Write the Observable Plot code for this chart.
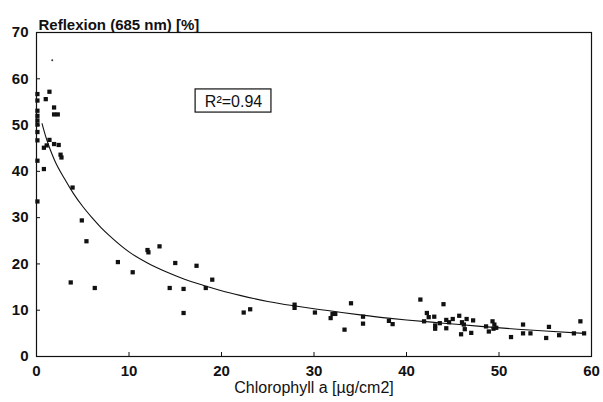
<!DOCTYPE html>
<html>
<head>
<meta charset="utf-8">
<script src="https://cdn.jsdelivr.net/npm/d3@7"></script>
<script src="https://cdn.jsdelivr.net/npm/@observablehq/plot@0.6"></script>
<style>
  html, body { margin: 0; padding: 0; background: #fff; }
  svg { display: block; }
</style>
</head>
<body>
<div id="chart"></div>
<script>
// Scatter data: chlorophyll a [µg/cm2] vs reflexion (685 nm) [%]
const chlX = [0.1,0.1,0.1,0.1,0.1,0.1,0.1,0.1,0.1,0.1,
  1.0,1.4,1.9,1.9,2.3,1.4,1.1,0.8,1.9,2.4,2.6,2.7,0.8,3.9,4.9,5.4,3.7,6.3,8.8,10.4,
  12.0,12.1,13.3,15.0,17.3,19.0,18.3,14.4,15.9,15.9,22.4,23.1,27.9,27.9,30.1,31.8,32.0,32.3,
  33.3,34.0,35.3,35.3,38.1,38.5,41.5,41.9,42.2,42.4,43.0,43.1,43.1,43.6,44.0,44.3,44.3,44.6,
  45.0,45.7,45.9,46.0,46.2,46.3,46.5,47.0,47.2,48.6,48.9,49.3,49.5,49.4,49.7,51.3,52.6,52.6,
  53.4,55.1,55.4,56.5,58.1,58.8,59.2];
const reflY = [56.7,55.3,53.1,52.0,51.0,50.1,48.5,46.7,42.3,33.5,
  55.6,57.2,53.8,52.3,52.3,46.8,45.6,45.1,45.9,45.7,43.6,43.0,40.5,36.5,29.4,24.9,16.0,14.8,20.4,18.2,
  23.0,22.5,23.8,20.2,19.6,16.6,14.8,14.8,14.6,9.4,9.5,10.2,11.2,10.5,9.5,8.3,9.2,9.2,
  5.8,11.5,7.1,8.6,7.7,7.0,12.3,7.6,9.4,8.5,8.6,6.7,6.0,7.2,11.3,7.9,6.1,7.4,
  8.1,8.8,4.8,7.4,6.9,5.9,8.1,5.1,7.8,6.5,5.4,7.6,6.9,6.0,6.2,4.2,6.9,5.0,
  5.0,4.0,6.4,4.6,5.0,7.6,5.0];

// A faint isolated dot near the top
const faintX = [1.7];
const faintY = [64.0];

// Fitted curve
const fitX = [0.6,1.0,1.5,2,3,4,5,6,7,8,10,12,14,16,18,20,22,25,28,30,33,35,38,40,44,48,52,55,59.2];
const fitY = [50.3,47.5,44.6,42.2,38.5,35.2,32.4,30.0,27.8,25.9,22.6,20.2,18.3,16.7,15.4,14.2,13.2,11.9,10.9,10.3,9.5,9.0,8.3,7.9,7.2,6.5,5.9,5.5,5.0];

// Tick labels
const xTicks = [0,10,20,30,40,50,60];
const yTicks = [0,10,20,30,40,50,60,70];

// Texts
const yTitle = "Reflexion (685 nm) [%]";
const xTitle = "Chlorophyll a [µg/cm2]";
const rLabel = [{x: 21.3, y: 55.1, text: "R²=0.94"}];
const rBox = [{x1: 17.2, x2: 25.4, y1: 52.7, y2: 57.7}];

const points = chlX.map((x, i) => ({x, y: reflY[i]}));
const faint = faintX.map((x, i) => ({x, y: faintY[i]}));
const fit = fitX.map((x, i) => ({x, y: fitY[i]}));

const font = "'Liberation Sans', Arial, sans-serif";

const chart = Plot.plot({
  width: 603,
  height: 402,
  marginLeft: 36,
  marginRight: 12,
  marginTop: 32,
  marginBottom: 46,
  style: {fontFamily: font, fontSize: "13px", color: "#111", background: "#fff"},
  x: {domain: [0, 60]},
  y: {domain: [0, 70]},
  marks: [
    Plot.frame({stroke: "#111", strokeWidth: 1.2}),
    Plot.axisX({ticks: xTicks, tickSize: -4, tickPadding: 13, label: null, fontWeight: "bold", fontSize: 15}),
    Plot.axisY({ticks: yTicks, tickSize: -4, tickPadding: 12, label: null, fontWeight: "bold", fontSize: 15}),
    Plot.text([yTitle], {frameAnchor: "top-left", dy: -13, dx: 2, textAnchor: "start", fontWeight: "bold", fontSize: 15}),
    Plot.text([xTitle], {frameAnchor: "bottom", dy: 36, fontSize: 16}),
    Plot.line(fit, {x: "x", y: "y", stroke: "#111", strokeWidth: 1.1, curve: "monotone-x"}),
    Plot.dot(points, {x: "x", y: "y", symbol: "square", r: 2.4, fill: "#111", stroke: "none"}),
    Plot.dot(faint, {x: "x", y: "y", r: 1, fill: "#333", stroke: "none"}),
    Plot.rect(rBox, {x1: "x1", x2: "x2", y1: "y1", y2: "y2", fill: "none", stroke: "#111", strokeWidth: 1.2}),
    Plot.text(rLabel, {x: "x", y: "y", text: "text", fontSize: 16})
  ]
});
document.getElementById("chart").appendChild(chart);
</script>
</body>
</html>
